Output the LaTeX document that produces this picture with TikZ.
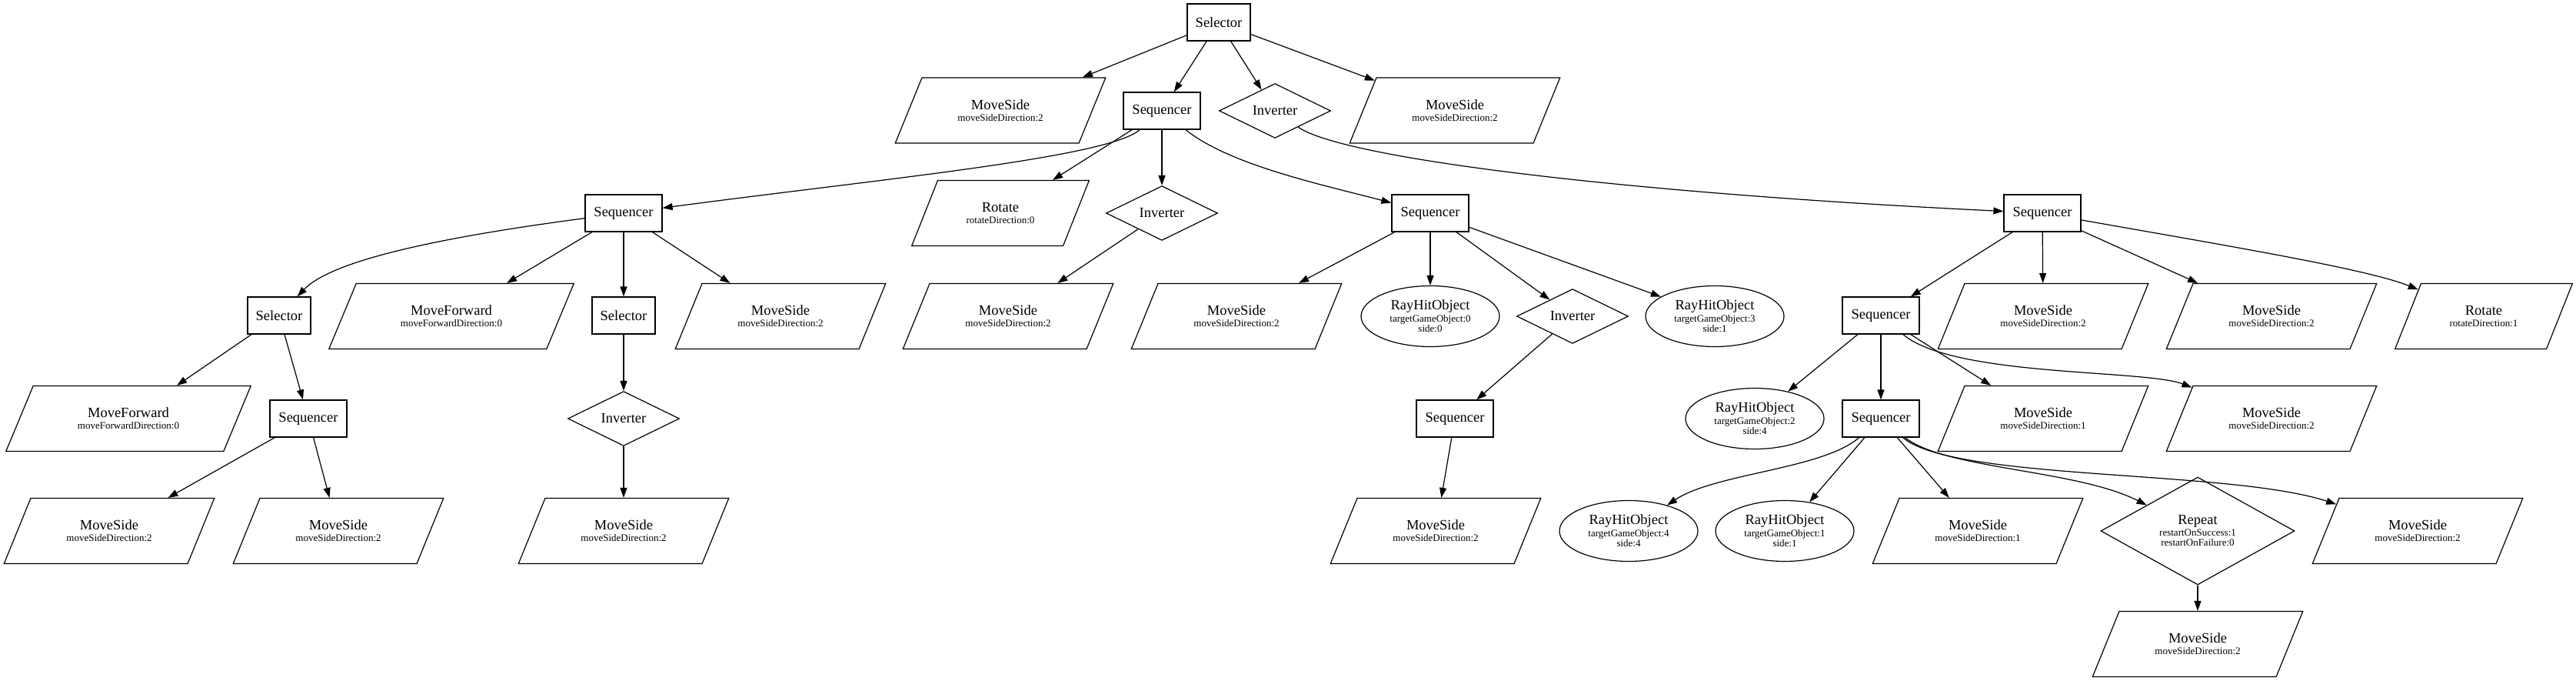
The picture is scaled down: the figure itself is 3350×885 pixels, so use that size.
\documentclass[tikz,border=0pt]{standalone}
\usepackage{fontspec}
\setmainfont{Liberation Serif}
\usetikzlibrary{shapes.geometric,arrows.meta}
\newcommand{\mainfnt}{\fontsize{18.5}{18.5}\selectfont}
\newcommand{\subfnt}{\fontsize{13}{13}\selectfont}
\newcommand{\twol}[2]{{\mainfnt #1}\\[2pt]#2}
\newcommand{\threel}[3]{{\mainfnt #1}\\[2pt]#2\\#3}
\tikzset{
  base/.style={draw, line width=1.2pt, font=\mainfnt, inner sep=0pt},
  selbox/.style={base, rectangle, minimum width=82pt, minimum height=48pt},
  seqbox/.style={base, rectangle, minimum width=100pt, minimum height=48pt},
  invd/.style={base, diamond, minimum width=145pt, minimum height=47pt},
  para/.style={base, trapezium, trapezium left angle=56, trapezium right angle=124,
    trapezium stretches=true, minimum height=85pt, align=center, font=\subfnt},
  msp/.style={para, minimum width=274pt},
  mfp/.style={para, minimum width=319pt},
  rotp/.style={para, minimum width=231pt},
  rayel/.style={base, ellipse, minimum width=180pt, minimum height=79pt, align=center, font=\subfnt},
  repd/.style={base, diamond, minimum width=252pt, minimum height=111pt, align=center, font=\subfnt},
  edge/.style={line width=1.2pt, -{Triangle[length=13pt,width=9pt]}},
}
\begin{document}
\begin{tikzpicture}[x=1pt,y=-1pt]
\useasboundingbox (0,0) rectangle (3350,885);
% level 0
\node[selbox] (root) at (1585,29) {Selector};
% level 1
\node[msp] (msA) at (1301,143.5) {\twol{MoveSide}{moveSideDirection:2}};
\node[seqbox] (seqA) at (1511,144) {Sequencer};
\node[invd] (invA) at (1658,144) {Inverter};
\node[msp] (msB) at (1892,143.5) {\twol{MoveSide}{moveSideDirection:2}};
% level 2
\node[seqbox] (seqL) at (811,277) {Sequencer};
\node[rotp] (rotA) at (1301,277) {\twol{Rotate}{rotateDirection:0}};
\node[invd] (invB) at (1511,277) {Inverter};
\node[seqbox] (seqM) at (1860,277) {Sequencer};
\node[seqbox] (seqR) at (2656,277) {Sequencer};
% level 3
\node[selbox] (selL) at (363,410) {Selector};
\node[mfp] (mfA) at (587,411) {\twol{MoveForward}{moveForwardDirection:0}};
\node[selbox] (selM) at (811,410) {Selector};
\node[msp] (msC) at (1015,411) {\twol{MoveSide}{moveSideDirection:2}};
\node[msp] (msG) at (1311,411) {\twol{MoveSide}{moveSideDirection:2}};
\node[msp] (msH) at (1608,411) {\twol{MoveSide}{moveSideDirection:2}};
\node[rayel] (rayA) at (1860,411) {\threel{RayHitObject}{targetGameObject:0}{side:0}};
\node[invd] (invD) at (2045,411) {Inverter};
\node[rayel] (rayB) at (2230,411) {\threel{RayHitObject}{targetGameObject:3}{side:1}};
\node[seqbox] (seqR2) at (2446,410) {Sequencer};
\node[msp] (msJ) at (2657,411) {\twol{MoveSide}{moveSideDirection:2}};
\node[msp] (msK) at (2954,411) {\twol{MoveSide}{moveSideDirection:2}};
\node[rotp] (rotB) at (3230,411) {\twol{Rotate}{rotateDirection:1}};
% level 4
\node[mfp] (mfB) at (167,544) {\twol{MoveForward}{moveForwardDirection:0}};
\node[seqbox] (seqLL) at (401,544) {Sequencer};
\node[invd] (invC) at (811,544) {Inverter};
\node[seqbox] (seqN) at (1892,544) {Sequencer};
\node[rayel] (rayC) at (2282,544) {\threel{RayHitObject}{targetGameObject:2}{side:4}};
\node[seqbox] (seqR3) at (2446,544) {Sequencer};
\node[msp] (msL) at (2657,544) {\twol{MoveSide}{moveSideDirection:1}};
\node[msp] (msM) at (2954,544) {\twol{MoveSide}{moveSideDirection:2}};
% level 5
\node[msp] (msD) at (142,690) {\twol{MoveSide}{moveSideDirection:2}};
\node[msp] (msE) at (440,690) {\twol{MoveSide}{moveSideDirection:2}};
\node[msp] (msF) at (811,690) {\twol{MoveSide}{moveSideDirection:2}};
\node[msp] (msI) at (1867,690) {\twol{MoveSide}{moveSideDirection:2}};
\node[rayel] (rayD) at (2118,690) {\threel{RayHitObject}{targetGameObject:4}{side:4}};
\node[rayel] (rayE) at (2321,690) {\threel{RayHitObject}{targetGameObject:1}{side:1}};
\node[msp] (msN) at (2572,690) {\twol{MoveSide}{moveSideDirection:1}};
\node[repd] (rep) at (2858,690) {\threel{Repeat}{restartOnSuccess:1}{restartOnFailure:0}};
\node[msp] (msO) at (3144,690) {\twol{MoveSide}{moveSideDirection:2}};
% level 6
\node[msp] (msP) at (2858,837) {\twol{MoveSide}{moveSideDirection:2}};

% edges
\draw[edge] (root) -- (msA);
\draw[edge] (root) -- (seqA);
\draw[edge] (root) -- (invA);
\draw[edge] (root) -- (msB);

\draw[edge] (seqA) .. controls (1440,205) and (1150,232) .. (seqL);
\draw[edge] (seqA) -- (rotA);
\draw[edge] (seqA) -- (invB);
\draw[edge] (seqA) .. controls (1600,215) and (1720,240) .. (seqM);
\draw[edge] (invA) .. controls (1745,205) and (2100,250) .. (seqR);

\draw[edge] (seqL) .. controls (560,310) and (430,340) .. (selL);
\draw[edge] (seqL) -- (mfA);
\draw[edge] (seqL) -- (selM);
\draw[edge] (seqL) -- (msC);

\draw[edge] (selL) -- (mfB);
\draw[edge] (selL) -- (seqLL);
\draw[edge] (seqLL) -- (msD);
\draw[edge] (seqLL) -- (msE);
\draw[edge] (selM) -- (invC);
\draw[edge] (invC) -- (msF);

\draw[edge] (invB) -- (msG);

\draw[edge] (seqM) -- (msH);
\draw[edge] (seqM) -- (rayA);
\draw[edge] (seqM) -- (invD);
\draw[edge] (seqM) -- (rayB);
\draw[edge] (invD) -- (seqN);
\draw[edge] (seqN) -- (msI);

\draw[edge] (seqR) -- (seqR2);
\draw[edge] (seqR) -- (msJ);
\draw[edge] (seqR) -- (msK);
\draw[edge] (seqR) .. controls (2900,320) and (3080,350) .. (rotB);

\draw[edge] (seqR2) -- (rayC);
\draw[edge] (seqR2) -- (seqR3);
\draw[edge] (seqR2) -- (msL);
\draw[edge] (seqR2) .. controls (2540,490) and (2790,480) .. (msM);

\draw[edge] (seqR3) .. controls (2370,610) and (2230,615) .. (rayD);
\draw[edge] (seqR3) -- (rayE);
\draw[edge] (seqR3) -- (msN);
\draw[edge] (seqR3) .. controls (2530,610) and (2700,610) .. (rep);
\draw[edge] (seqR3) .. controls (2540,625) and (2900,610) .. (msO);
\draw[edge] (rep) -- (msP);
\end{tikzpicture}
\end{document}
